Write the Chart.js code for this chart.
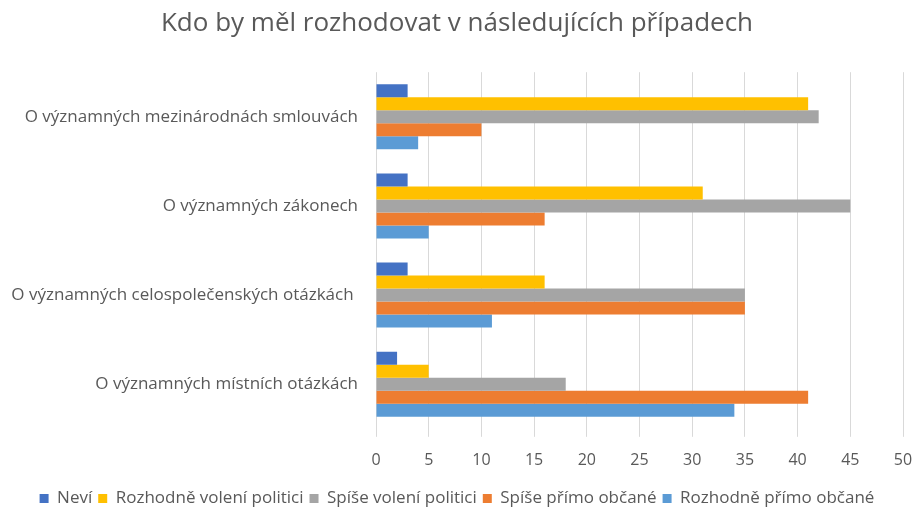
<!DOCTYPE html>
<html>
<head>
<meta charset="utf-8">
<script src="https://cdn.jsdelivr.net/npm/chart.js@4"></script>
<style>
  html, body { margin: 0; padding: 0; background: #fff; }
  #wrap { width: 914px; height: 507px; }
</style>
</head>
<body>
<div id="wrap"><canvas id="chart" width="914" height="507"></canvas></div>
<script>
const categories = [
    'O významných mezinárodnách smlouvách',
    'O významných zákonech',
    'O významných celospolečenských otázkách ',
    'O významných místních otázkách'
];
const seriesNames = ['Neví', 'Rozhodně volení politici', 'Spíše volení politici', 'Spíše přímo občané', 'Rozhodně přímo občané'];
const nevi = [3, 3, 3, 2];
const rozhodnePolitici = [41, 31, 16, 5];
const spisePolitici = [42, 45, 35, 18];
const spiseObcane = [10, 16, 35, 41];
const rozhodneObcane = [4, 5, 11, 34];
const xTicks = [0, 5, 10, 15, 20, 25, 30, 35, 40, 45, 50];

const colors = ['#4472c4', '#ffc000', '#a5a5a5', '#ed7d31', '#5b9bd5'];
const values = [nevi, rozhodnePolitici, spisePolitici, spiseObcane, rozhodneObcane];

const textColor = '#595959';
const fontFamily = '"Open Sans", sans-serif';

const ctx = document.getElementById('chart').getContext('2d');
const chart = new Chart(ctx, {
    type: 'bar',
    data: {
        labels: categories,
        datasets: seriesNames.map((name, i) => ({
            label: name,
            data: values[i],
            backgroundColor: colors[i],
            borderWidth: 0,
            barPercentage: 1,
            categoryPercentage: 0.73
        }))
    },
    options: {
        indexAxis: 'y',
        responsive: false,
        animation: false,
        layout: { padding: { left: 0, right: 0, top: 8, bottom: -10 } },
        plugins: {
            title: {
                display: true,
                text: 'Kdo by měl rozhodovat v následujících případech',
                color: textColor,
                font: { family: fontFamily, size: 26, weight: 'normal' },
                padding: { top: 0, bottom: 33 }
            },
            legend: {
                position: 'bottom',
                labels: {
                    color: textColor,
                    font: { family: fontFamily, size: 17 },
                    boxWidth: 9,
                    boxHeight: 9,
                    padding: 6
                }
            },
            tooltip: { enabled: false }
        },
        scales: {
            x: {
                min: 0,
                max: 50,
                afterBuildTicks: scale => { scale.ticks = xTicks.map(v => ({ value: v })); },
                afterFit: scale => { scale.paddingRight = 11; },
                grid: { color: '#d9d9d9', tickLength: 8, lineWidth: 1 },
                border: { display: false },
                ticks: {
                    color: textColor,
                    font: { family: fontFamily, size: 16 },
                    padding: 14
                }
            },
            y: {
                grid: { display: false },
                border: { display: false },
                afterFit: scale => { scale.width = 376; },
                ticks: {
                    color: textColor,
                    font: { family: fontFamily, size: 17 },
                    padding: 10
                }
            }
        }
    }
});
</script>
</body>
</html>
